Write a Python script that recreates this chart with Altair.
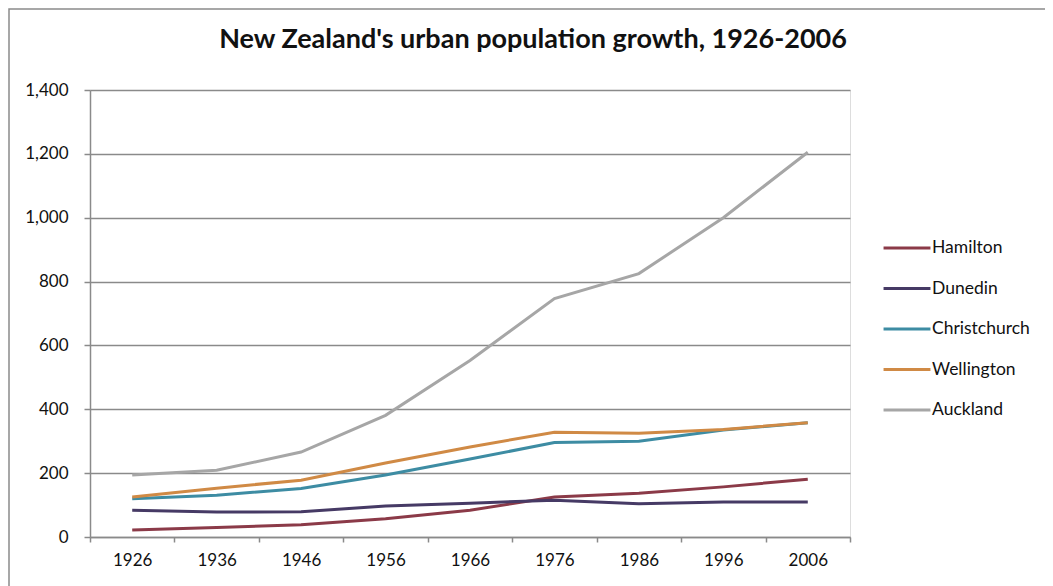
import altair as alt
import pandas as pd

years = ["1926", "1936", "1946", "1956", "1966", "1976", "1986", "1996", "2006"]
cities = ["Hamilton", "Dunedin", "Christchurch", "Wellington", "Auckland"]
hamilton = [22, 30, 38, 57, 84, 125, 137, 157, 181]
dunedin = [84, 78, 79, 97, 106, 115, 104, 110, 110]
christchurch = [120, 131, 152, 194, 244, 296, 300, 335, 358]
wellington = [125, 153, 178, 232, 282, 328, 325, 337, 358]
auckland = [194, 209, 266, 381, 553, 747, 825, 1000, 1205]
colors = ["#8B3A48", "#463A65", "#3D8CA3", "#D08A45", "#A6A6A6"]
y_ticks = [0, 200, 400, 600, 800, 1000, 1200, 1400]
title_text = "New Zealand's urban population growth, 1926-2006"

series = [hamilton, dunedin, christchurch, wellington, auckland]
rows = []
for city, vals in zip(cities, series):
    for yr, v in zip(years, vals):
        rows.append({"Year": yr, "City": city, "Population": v, "order": cities.index(city)})
df = pd.DataFrame(rows)

FONT = "Lato"

lines = alt.Chart(df).mark_line(strokeWidth=3).encode(
    x=alt.X(
        "Year:O",
        sort=years,
        bandPosition=0.5,
        scale=alt.Scale(type="band", paddingInner=0, paddingOuter=0),
        axis=alt.Axis(
            title=None,
            labelAngle=0,
            tickBand="extent",
            tickSize=5,
            tickColor="#8a8a8a",
            tickWidth=1.5,
            domainColor="#8a8a8a",
            domainWidth=1.5,
            labelFont=FONT,
            labelFontSize=17,
            labelColor="#111111",
            labelPadding=10,
            grid=False,
        ),
    ),
    y=alt.Y(
        "Population:Q",
        scale=alt.Scale(domain=[0, 1400], nice=False),
        axis=alt.Axis(
            title=None,
            values=y_ticks,
            format=",d",
            tickSize=6,
            tickColor="#8a8a8a",
            tickWidth=1.5,
            domainColor="#8a8a8a",
            domainWidth=1.5,
            gridColor="#8a8a8a",
            gridWidth=1.5,
            labelFont=FONT,
            labelFontSize=17,
            labelColor="#111111",
            labelPadding=16,
        ),
    ),
    color=alt.Color(
        "City:N",
        sort=cities,
        scale=alt.Scale(domain=cities, range=colors),
        legend=alt.Legend(
            title=None,
            orient="none",
            legendX=792,
            legendY=133,
            symbolType="stroke",
            symbolSize=2200,
            symbolStrokeWidth=3,
            labelFont=FONT,
            labelFontSize=17.5,
            labelColor="#111111",
            labelOffset=0,
            rowPadding=6.5,
        ),
    ),
    order="order:Q",
)

frame = alt.Chart(pd.DataFrame({"a": [0]})).mark_rect(
    fill=None, stroke="#8a8a8a", strokeWidth=1.5
).encode(
    x=alt.value(-81), x2=alt.value(1100),
    y=alt.value(-81), y2=alt.value(700),
)

chart = alt.layer(frame, lines).properties(
    width=760,
    height=447,
    padding={"left": 82, "top": 82, "right": 195, "bottom": 49},
    autosize=alt.AutoSizeParams(type="none"),
    title=alt.TitleParams(
        title_text,
        font=FONT,
        fontSize=27,
        fontWeight="bold",
        color="#111111",
        anchor="middle",
        frame="group",
        dx=63,
        offset=-46,
    ),
).configure_view(stroke=None).configure(background="white")

chart.save("out.html", embed_options={"renderer": "svg", "actions": False})
